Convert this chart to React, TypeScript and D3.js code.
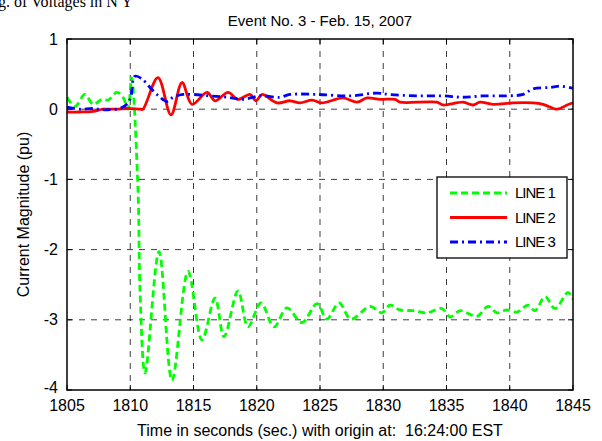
import React from "react"
import * as d3 from "d3"

// seconds after origin (16:24:00 EST)
const line1Time = [1805.0, 1805.63, 1806.42, 1807.06, 1807.77, 1808.24, 1808.95, 1809.43, 1809.82, 1810.1, 1810.61, 1810.77, 1811.17, 1812.27, 1813.3, 1814.57, 1815.67, 1816.7, 1817.41, 1818.52, 1819.31, 1820.34, 1821.36, 1822.39, 1823.58, 1824.76, 1825.55, 1826.5, 1827.45, 1828.95, 1829.9, 1830.53, 1831.32, 1832.35, 1833.46, 1834.64, 1835.28, 1836.07, 1837.41, 1838.28, 1838.99, 1839.78, 1840.57, 1841.44, 1842.0, 1842.79, 1843.58, 1844.6, 1845.0]
const line1Value = [0.17, 0.04, 0.21, 0.07, 0.14, 0.13, 0.24, 0.17, 0.0, 0.45, -1.14, -2.57, -3.76, -2.03, -3.86, -2.31, -3.29, -2.69, -3.24, -2.59, -3.1, -2.76, -3.1, -2.83, -3.04, -2.77, -2.99, -2.76, -2.99, -2.81, -2.9, -2.79, -2.86, -2.87, -2.9, -2.84, -2.96, -2.87, -2.95, -2.81, -2.9, -2.86, -2.89, -2.79, -2.87, -2.67, -2.84, -2.61, -2.71]

const line2Time = [1805.0, 1806.03, 1807.06, 1807.85, 1808.95, 1809.74, 1810.77, 1811.0, 1812.19, 1813.22, 1814.09, 1814.88, 1816.07, 1816.7, 1817.73, 1818.52, 1819.47, 1819.94, 1820.42, 1821.6, 1822.63, 1823.42, 1824.37, 1825.16, 1826.82, 1827.93, 1828.72, 1829.74, 1830.93, 1831.32, 1834.25, 1834.72, 1836.3, 1837.1, 1837.65, 1838.68, 1840.26, 1841.84, 1842.63, 1843.74, 1844.53, 1845.0]
const line2Value = [-0.04, -0.04, -0.03, 0.0, 0.0, 0.01, 0.0, 0.0, 0.45, -0.08, 0.38, 0.07, 0.24, 0.12, 0.24, 0.14, 0.21, 0.12, 0.21, 0.09, 0.12, 0.09, 0.13, 0.09, 0.16, 0.1, 0.16, 0.14, 0.14, 0.1, 0.1, 0.06, 0.1, 0.06, 0.1, 0.07, 0.09, 0.09, 0.07, 0.0, 0.06, 0.09]

const line3Time = [1805.0, 1806.03, 1807.06, 1808.16, 1809.43, 1809.98, 1810.37, 1810.93, 1811.56, 1812.11, 1812.91, 1813.38, 1814.17, 1814.96, 1816.3, 1817.65, 1818.91, 1820.26, 1821.84, 1822.63, 1824.76, 1827.37, 1829.5, 1830.53, 1832.67, 1834.72, 1836.3, 1837.89, 1839.78, 1841.05, 1841.84, 1843.18, 1843.97, 1845.0]
const line3Value = [0.03, 0.0, 0.01, -0.01, 0.03, 0.14, 0.47, 0.43, 0.31, 0.21, 0.11, 0.17, 0.21, 0.21, 0.19, 0.17, 0.14, 0.19, 0.17, 0.21, 0.21, 0.19, 0.23, 0.21, 0.19, 0.19, 0.17, 0.19, 0.19, 0.21, 0.29, 0.31, 0.33, 0.3]

const xTicks = [1805, 1810, 1815, 1820, 1825, 1830, 1835, 1840, 1845]
const yTicks = [1, 0, -1, -2, -3, -4]

const series = [
  { name: "LINE 1", time: line1Time, value: line1Value, color: "#00ff00", dash: "7,4" },
  { name: "LINE 2", time: line2Time, value: line2Value, color: "#ff0000", dash: "none" },
  { name: "LINE 3", time: line3Time, value: line3Value, color: "#0000ff", dash: "8,4,2,4" },
]

const App = () => {
  const width = 602
  const height = 441
  const margin = { top: 39, right: 29, bottom: 51, left: 67 }
  const innerWidth = width - margin.left - margin.right
  const innerHeight = height - margin.top - margin.bottom
  const font = "Liberation Sans, Arial, sans-serif"

  const xScale = d3.scaleLinear().domain([1805, 1845]).range([0, innerWidth])
  const yScale = d3.scaleLinear().domain([-4, 1]).range([innerHeight, 0])

  const lineGen = d3
    .line<[number, number]>()
    .x((d) => xScale(d[0]))
    .y((d) => yScale(d[1]))
    .curve(d3.curveCatmullRom.alpha(0.5))

  const legend = { x: 437 - margin.left, y: 177 - margin.top, w: 130, h: 81 }

  return (
    <svg width={width} height={height} style={{ position: "absolute", left: 0, top: 0, background: "#fff" }}>
      <text x={-2} y={7} fontFamily="Liberation Serif, Times New Roman, serif" fontSize={16}>
        g. of Voltages in N Y
      </text>
      <text x={320} y={26} textAnchor="middle" fontFamily={font} fontSize={15}>
        Event No. 3 - Feb. 15, 2007
      </text>
      <g transform={`translate(${margin.left}, ${margin.top})`}>
        <defs>
          <clipPath id="plot-clip">
            <rect x={0} y={0} width={innerWidth} height={innerHeight} />
          </clipPath>
        </defs>
        {xTicks.map((t) => (
          <g key={"x" + t} transform={`translate(${xScale(t)}, 0)`}>
            {t > 1805 && t < 1845 && (
              <line y2={innerHeight} stroke="#000" strokeWidth={1} strokeDasharray="6,6" opacity={0.75} />
            )}
            <line y1={innerHeight} y2={innerHeight - 5} stroke="#000" />
            <line y1={0} y2={5} stroke="#000" />
            <text y={innerHeight + 21} textAnchor="middle" fontFamily={font} fontSize={16}>
              {t}
            </text>
          </g>
        ))}
        {yTicks.map((v) => (
          <g key={"y" + v} transform={`translate(0, ${yScale(v)})`}>
            {v > -4 && v < 1 && (
              <line x2={innerWidth} stroke="#000" strokeWidth={1} strokeDasharray="6,6" opacity={0.75} />
            )}
            <line x1={0} x2={5} stroke="#000" />
            <line x1={innerWidth} x2={innerWidth - 5} stroke="#000" />
            <text x={-9} y={v === -4 ? -3 : 0} dy="0.35em" textAnchor="end" fontFamily={font} fontSize={16}>
              {v}
            </text>
          </g>
        ))}
        <g clipPath="url(#plot-clip)">
          {series.map((s) => (
            <path
              key={s.name}
              d={lineGen(s.time.map((t, i) => [t, s.value[i]] as [number, number])) || ""}
              fill="none"
              stroke={s.color}
              strokeWidth={2.8}
              strokeDasharray={s.dash}
            />
          ))}
        </g>
        <rect x={0} y={0} width={innerWidth} height={innerHeight} fill="none" stroke="#000" strokeWidth={1.5} />
        <g transform={`translate(${legend.x}, ${legend.y})`}>
          <rect width={legend.w} height={legend.h} fill="#fff" stroke="#000" strokeWidth={1.3} />
          {series.map((s, i) => (
            <g key={s.name} transform={`translate(0, ${16 + i * 24.5})`}>
              <line x1={13} x2={70} stroke={s.color} strokeWidth={2.8} strokeDasharray={s.dash} />
              <text x={78} dy="0.35em" fontFamily={font} fontSize={15} letterSpacing={-1}>
                {s.name}
              </text>
            </g>
          ))}
        </g>
      </g>
      <text
        transform={`translate(29, ${margin.top + innerHeight / 2}) rotate(-90)`}
        textAnchor="middle"
        fontFamily={font}
        fontSize={16}
      >
        Current Magnitude (pu)
      </text>
      <text x={320} y={436} textAnchor="middle" fontFamily={font} fontSize={16} style={{ whiteSpace: "pre" }}>
        {"Time in seconds (sec.) with origin at:  16:24:00 EST"}
      </text>
    </svg>
  )
}

export default App
